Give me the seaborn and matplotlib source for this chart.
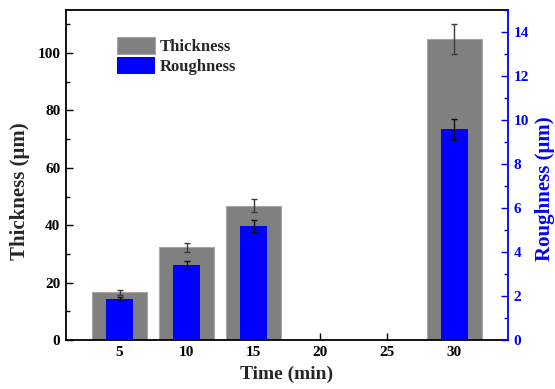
import matplotlib
matplotlib.use("Agg")
import matplotlib.pyplot as plt
import seaborn as sns
import pandas as pd
from matplotlib.ticker import MultipleLocator

# Deposition time (min)
time_min = [5, 10, 15, 30]
# Coating thickness (um) and its error
thickness = [16.6, 32.3, 46.8, 104.9]
thickness_err = [0.9, 1.6, 2.2, 5.2]
# Surface roughness (um) and its error
roughness = [1.87, 3.41, 5.19, 9.58]
roughness_err = [0.10, 0.17, 0.26, 0.48]
x_ticks = [5, 10, 15, 20, 25, 30]

sns.set_theme(style="white")
plt.rcParams["font.family"] = ["Liberation Serif", "DejaVu Serif"]
plt.rcParams["font.weight"] = "bold"

df = pd.DataFrame({"time": time_min, "thickness": thickness, "roughness": roughness})

fig = plt.figure(figsize=(5.55, 3.89), dpi=100)
ax = fig.add_axes([66 / 555, 1 - 340 / 389, 442 / 555, 330 / 389])
ax2 = ax.twinx()

grey = "#808080"
blue = "#0000ff"

sns.barplot(data=df, x="time", y="thickness", native_scale=True, width=0.83,
            color=grey, saturation=1, errorbar=None, ax=ax,
            edgecolor="#a6a6a6", linewidth=0.8, label="Thickness")
ax.errorbar(time_min, thickness, yerr=thickness_err, fmt="none",
            ecolor="#3a3a3a", elinewidth=1.0, capsize=2.5, capthick=1.0, zorder=3)

sns.barplot(data=df, x="time", y="roughness", native_scale=True, width=0.4,
            color=blue, saturation=1, errorbar=None, ax=ax2,
            linewidth=0, label="Roughness")
ax2.errorbar(time_min, roughness, yerr=roughness_err, fmt="none",
             ecolor="#111111", elinewidth=1.0, capsize=2.5, capthick=1.0, zorder=3)

# Axis ranges and ticks
ax.set_xlim(1, 34)
ax2.set_xlim(1, 34)
ax.set_ylim(0, 115)
ax2.set_ylim(0, 15)
ax.set_xticks(x_ticks)
ax.set_xticklabels([str(t) for t in x_ticks])
ax.yaxis.set_major_locator(MultipleLocator(20))
ax.yaxis.set_minor_locator(MultipleLocator(10))
ax2.yaxis.set_major_locator(MultipleLocator(2))
ax2.yaxis.set_minor_locator(MultipleLocator(1))

tick_fs = 11
ax.tick_params(axis="both", which="major", direction="in", length=5, width=1,
               colors="black", labelsize=tick_fs, pad=4)
ax.tick_params(axis="y", which="minor", direction="in", length=3, width=1,
               left=True, colors="black")
ax.tick_params(axis="x", which="both", top=False, bottom=True)
ax.tick_params(axis="y", which="both", right=False)
ax2.tick_params(axis="y", which="major", direction="in", length=5, width=1,
                colors=blue, labelsize=tick_fs, pad=4, right=True)
ax2.tick_params(axis="y", which="minor", direction="in", length=3, width=1,
                colors=blue, right=True)
for lab in ax.get_xticklabels() + ax.get_yticklabels() + ax2.get_yticklabels():
    lab.set_fontweight("bold")

for side in ["left", "bottom", "top"]:
    ax.spines[side].set_color("black")
    ax.spines[side].set_linewidth(1.3)
for side in ["left", "bottom", "top"]:
    ax2.spines[side].set_visible(False)
ax.spines["right"].set_visible(False)
ax2.spines["right"].set_color(blue)
ax2.spines["right"].set_linewidth(1.3)

ax.set_xlabel("Time (min)", fontsize=14, fontweight="bold", labelpad=5)
ax.set_ylabel("Thickness (\u03bcm)", fontsize=15, fontweight="bold")
ax2.set_ylabel("Roughness (\u03bcm)", fontsize=15, fontweight="bold", color=blue)
ax.yaxis.set_label_coords(-0.081, 0.45)
ax2.yaxis.set_label_coords(1.061, 0.46)

h1, l1 = ax.get_legend_handles_labels()
h2, l2 = ax2.get_legend_handles_labels()
for lg in [ax.get_legend(), ax2.get_legend()]:
    if lg is not None:
        lg.remove()
leg = ax2.legend(h1[:1] + h2[:1], ["Thickness", "Roughness"], loc="upper left",
                 bbox_to_anchor=(0.115, 0.918), frameon=False, fontsize=12,
                 handlelength=2.3, handleheight=1.15, labelspacing=0.15,
                 handletextpad=0.3, borderpad=0, borderaxespad=0)
for t in leg.get_texts():
    t.set_fontweight("bold")

fig.savefig("out.png", dpi=100)
